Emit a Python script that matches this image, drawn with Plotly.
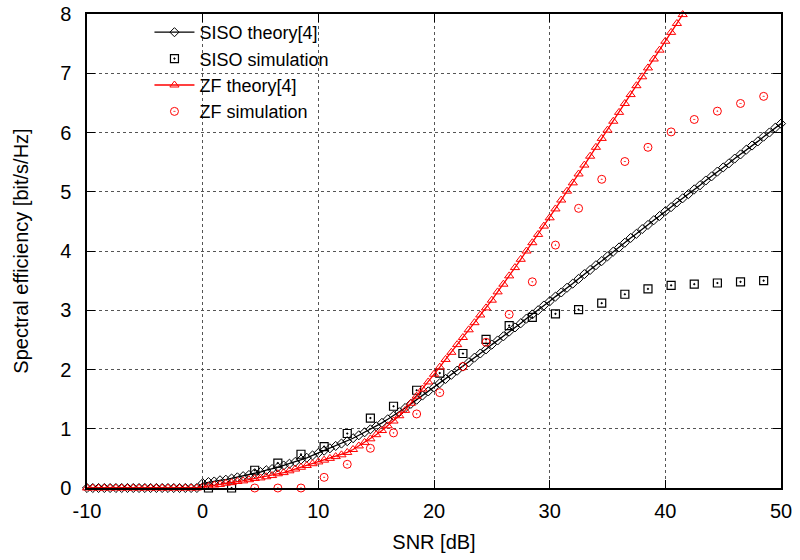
import plotly.graph_objects as go

# ---------------- data ----------------
snr_theory = [
    -10, -9.5, -9, -8.5, -8, -7.5, -7, -6.5, -6, -5.5, -5, -4.5, -4, -3.5, -3, -2.5, -2, -1.5, -1, -0.5,
    0, 0.5, 1, 1.5, 2, 2.5, 3, 3.5, 4, 4.5, 5, 5.5, 6, 6.5, 7, 7.5, 8, 8.5, 9, 9.5,
    10, 10.5, 11, 11.5, 12, 12.5, 13, 13.5, 14, 14.5, 15, 15.5, 16, 16.5, 17, 17.5, 18, 18.5, 19, 19.5,
    20, 20.5, 21, 21.5, 22, 22.5, 23, 23.5, 24, 24.5, 25, 25.5, 26, 26.5, 27, 27.5, 28, 28.5, 29, 29.5,
    30, 30.5, 31, 31.5, 32, 32.5, 33, 33.5, 34, 34.5, 35, 35.5, 36, 36.5, 37, 37.5, 38, 38.5, 39, 39.5,
    40, 40.5, 41, 41.5, 42, 42.5, 43, 43.5, 44, 44.5, 45, 45.5, 46, 46.5, 47, 47.5, 48, 48.5, 49, 49.5,
    50,
]

siso_theory = [
    0, 0, 0, 0, 0, 0, 0, 0, 0, 0, 0, 0, 0, 0, 0, 0, 0, 0, 0, 0,
    0.08, 0.10, 0.11, 0.13, 0.14, 0.16, 0.18, 0.20, 0.22, 0.25, 0.27, 0.30, 0.32, 0.35, 0.38, 0.41, 0.44, 0.48, 0.51, 0.55,
    0.59, 0.63, 0.67, 0.71, 0.75, 0.79, 0.84, 0.89, 0.94, 0.99, 1.04, 1.10, 1.16, 1.22, 1.28, 1.35, 1.42, 1.49, 1.56, 1.63,
    1.70, 1.77, 1.84, 1.91, 1.98, 2.05, 2.12, 2.20, 2.27, 2.34, 2.42, 2.49, 2.56, 2.64, 2.71, 2.78, 2.86, 2.93, 3.00, 3.08,
    3.15, 3.23, 3.30, 3.38, 3.45, 3.53, 3.61, 3.68, 3.76, 3.83, 3.91, 3.99, 4.06, 4.14, 4.22, 4.29, 4.37, 4.44, 4.52, 4.59,
    4.67, 4.74, 4.82, 4.89, 4.96, 5.04, 5.11, 5.19, 5.26, 5.34, 5.41, 5.48, 5.56, 5.63, 5.71, 5.78, 5.85, 5.93, 6.00, 6.08,
    6.15,
]

snr_zf_theory = snr_theory[:104]  # the curve leaves the plot (8 bit/s/Hz) at about 41.5 dB

zf_theory = [
    0, 0, 0, 0, 0, 0, 0, 0, 0, 0, 0, 0, 0, 0, 0, 0, 0, 0, 0, 0,
    0.02, 0.03, 0.05, 0.06, 0.08, 0.09, 0.11, 0.12, 0.14, 0.16, 0.17, 0.19, 0.21, 0.24, 0.26, 0.29, 0.32, 0.35, 0.38, 0.41,
    0.44, 0.47, 0.50, 0.53, 0.56, 0.60, 0.65, 0.71, 0.77, 0.83, 0.90, 0.97, 1.05, 1.13, 1.22, 1.31, 1.43, 1.55, 1.67, 1.79,
    1.92, 2.04, 2.17, 2.29, 2.42, 2.54, 2.67, 2.79, 2.92, 3.04, 3.17, 3.31, 3.44, 3.58, 3.72, 3.86, 4.00, 4.14, 4.28, 4.42,
    4.56, 4.71, 4.86, 5.01, 5.15, 5.30, 5.45, 5.60, 5.75, 5.90, 6.04, 6.19, 6.34, 6.49, 6.64, 6.79, 6.94, 7.09, 7.24, 7.39,
    7.54, 7.69, 7.84, 7.99,
]

snr_siso_sim = [0.5, 2.5, 4.5, 6.5, 8.5, 10.5, 12.5, 14.5, 16.5, 18.5, 20.5, 22.5, 24.5,
                26.5, 28.5, 30.5, 32.5, 34.5, 36.5, 38.5, 40.5, 42.5, 44.5, 46.5, 48.5]
siso_sim = [0.00, 0.00, 0.30, 0.42, 0.57, 0.70, 0.92, 1.18, 1.38, 1.65, 1.94, 2.27, 2.51,
            2.74, 2.88, 2.94, 3.01, 3.12, 3.27, 3.36, 3.42, 3.44, 3.46, 3.48, 3.50]

snr_zf_sim = [4.5, 6.5, 8.5, 10.5, 12.5, 14.5, 16.5, 18.5, 20.5, 22.5, 24.5,
              26.5, 28.5, 30.5, 32.5, 34.5, 36.5, 38.5, 40.5, 42.5, 44.5, 46.5, 48.5]
zf_sim = [0.00, 0.00, 0.00, 0.18, 0.40, 0.67, 0.93, 1.25, 1.61, 2.05, 2.46,
          2.93, 3.48, 4.10, 4.72, 5.21, 5.51, 5.75, 6.01, 6.22, 6.36, 6.49, 6.61]

names = ["SISO theory[4]", "SISO simulation", "ZF theory[4]", "ZF simulation"]
x_ticks = [-10, 0, 10, 20, 30, 40, 50]
y_ticks = [0, 1, 2, 3, 4, 5, 6, 7, 8]

# ---------------- figure ----------------
FONT = "Liberation Sans, Arial, Helvetica, sans-serif"
RED = "#ff0000"

fig = go.Figure()
fig.add_trace(go.Scatter(
    x=snr_theory, y=siso_theory, name=names[0], mode="lines+markers",
    line=dict(color="black", width=1.3),
    marker=dict(symbol="diamond-open", size=7, color="black", line=dict(width=1, color="black")),
    cliponaxis=False,
))
fig.add_trace(go.Scatter(
    x=snr_siso_sim, y=siso_sim, name=names[1], mode="markers",
    marker=dict(symbol="square-open-dot", size=8, color="black", line=dict(width=1.2, color="black")),
    cliponaxis=False,
))
fig.add_trace(go.Scatter(
    x=snr_zf_theory, y=zf_theory, name=names[2], mode="lines+markers",
    line=dict(color=RED, width=1.3),
    marker=dict(symbol="triangle-up-open", size=8, color=RED, line=dict(width=1, color=RED)),
    cliponaxis=False,
))
fig.add_trace(go.Scatter(
    x=snr_zf_sim, y=zf_sim, name=names[3], mode="markers",
    marker=dict(symbol="circle-open-dot", size=8, color=RED, line=dict(width=1, color=RED)),
    cliponaxis=False,
))

axis_common = dict(
    showline=True, linecolor="black", linewidth=1.5, mirror="allticks",
    ticks="inside", ticklen=8, tickwidth=1, tickcolor="black",
    showgrid=True, gridcolor="#555555", gridwidth=1, griddash="dot",
    zeroline=False, automargin=False,
    tickfont=dict(family=FONT, size=20, color="black"),
)

fig.update_layout(
    width=800, height=560,
    margin=dict(l=87, r=19, t=14, b=72),
    paper_bgcolor="white", plot_bgcolor="white",
    font=dict(family=FONT, size=20, color="black"),
    xaxis=dict(range=[-10, 50], tickvals=x_ticks, ticktext=[str(v) for v in x_ticks],
               title=dict(text="SNR [dB]", font=dict(family=FONT, size=20), standoff=14),
               ticklabelstandoff=4, **axis_common),
    yaxis=dict(range=[0, 8], tickvals=y_ticks, ticktext=[str(v) for v in y_ticks],
               title=dict(text="Spectral efficiency [bit/s/Hz]", font=dict(family=FONT, size=20), standoff=26),
               ticklabelstandoff=10, **axis_common),
    legend=dict(x=0.09, y=1.0, xanchor="left", yanchor="top",
                bgcolor="rgba(0,0,0,0)", borderwidth=0,
                font=dict(family=FONT, size=18, color="black"), itemwidth=40),
    showlegend=True,
)

fig.write_html("out.html")
